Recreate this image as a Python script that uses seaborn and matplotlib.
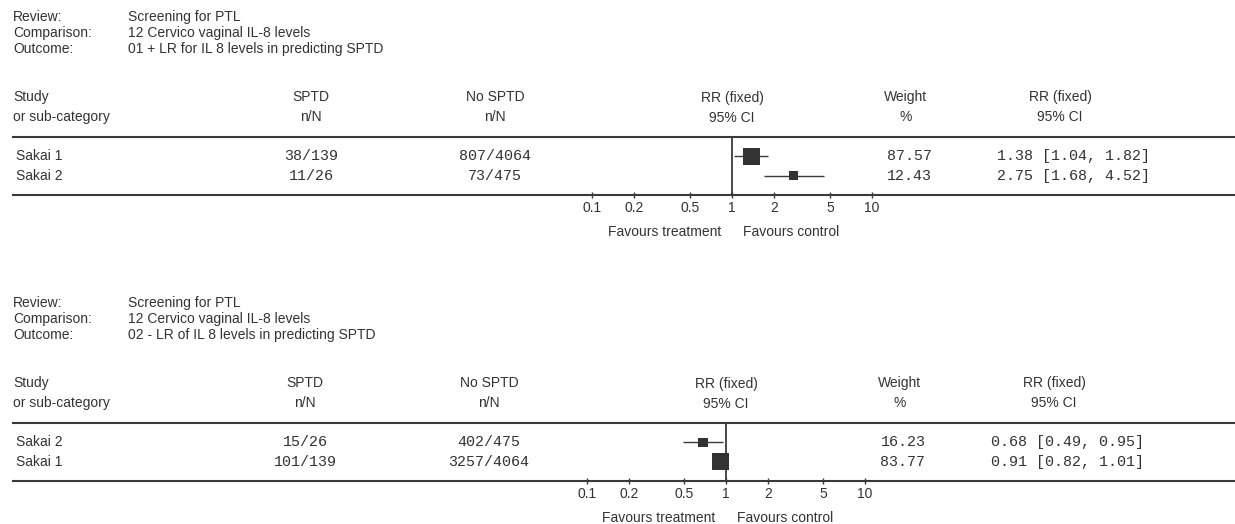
import matplotlib
matplotlib.use("Agg")
import matplotlib.pyplot as plt
import matplotlib.transforms as mtransforms
import seaborn as sns
import numpy as np
import pandas as pd

# --- data -------------------------------------------------------------
review = "Screening for PTL"
comparison = "12 Cervico vaginal IL-8 levels"
outcomes = ["01 + LR for IL 8 levels in predicting SPTD",
            "02 - LR of IL 8 levels in predicting SPTD"]

studies_1 = ["Sakai 1", "Sakai 2"]
sptd_1 = ["38/139", "11/26"]
no_sptd_1 = ["807/4064", "73/475"]
weight_1 = [87.57, 12.43]
rr_1 = [1.38, 2.75]
lo_1 = [1.04, 1.68]
hi_1 = [1.82, 4.52]

studies_2 = ["Sakai 2", "Sakai 1"]
sptd_2 = ["15/26", "101/139"]
no_sptd_2 = ["402/475", "3257/4064"]
weight_2 = [16.23, 83.77]
rr_2 = [0.68, 0.91]
lo_2 = [0.49, 0.82]
hi_2 = [0.95, 1.01]

tick_values = [0.1, 0.2, 0.5, 1, 2, 5, 10]
tick_labels = ["0.1", "0.2", "0.5", "1", "2", "5", "10"]

# --- style ------------------------------------------------------------
sns.set_style("white")
plt.rcParams['font.family'] = ['Liberation Sans', 'DejaVu Sans']
TXT = '#333333'
LINE = '#3a3a3a'
SANS = 10
MONO = dict(family='Liberation Mono', size=10.8, color=TXT)

W, H = 1235, 524
fig = plt.figure(figsize=(W / 100, H / 100), dpi=100)
fig.patch.set_facecolor('white')


def fx(px):
    return px / W


def fy(py):
    return 1 - py / H


def draw_panel(dy, dx, x0, decade, outcome, studies, sptd, no_sptd, weight, rr, lo, hi):
    # header block
    for i, (lab, val) in enumerate([("Review:", review),
                                    ("Comparison:", comparison),
                                    ("Outcome:", outcome)]):
        y = 17 + 16 * i + dy
        fig.text(fx(13), fy(y), lab, ha='left', va='center', fontsize=SANS, color=TXT)
        fig.text(fx(128), fy(y), val, ha='left', va='center', fontsize=SANS, color=TXT)

    # column headers
    heads = [(13, 'left', "Study", "or sub-category"),
             (311 + dx, 'center', "SPTD", "n/N"),
             (495 + dx, 'center', "No SPTD", "n/N"),
             (906 + dx, 'center', "Weight", "%"),
             (1060 + dx, 'center', "RR (fixed)", "95% CI")]
    for x, ha, t1, t2 in heads:
        fig.text(fx(x), fy(97 + dy), t1, ha=ha, va='center', fontsize=SANS, color=TXT)
        fig.text(fx(x), fy(117 + dy), t2, ha=ha, va='center', fontsize=SANS, color=TXT)

    # forest axes: spans the full table width, log scale tuned so ticks land right
    left_px, right_px = 13, W
    top_px, bot_px = 137 + dy, 195 + dy
    ax = fig.add_axes([fx(left_px), fy(bot_px), fx(right_px - left_px),
                       (bot_px - top_px) / H])
    ax.set_xscale('log')
    ax.set_xlim(0.1 * 10 ** ((left_px - x0) / decade),
                0.1 * 10 ** ((right_px - x0) / decade))
    ax.set_ylim(3, 0)
    ax.set_facecolor('none')

    df = pd.DataFrame({"study": studies, "rr": rr, "lo": lo, "hi": hi,
                       "weight": weight, "row": [1, 2]})

    ax.axvline(1, color=LINE, lw=1.3, zorder=1)
    ax.hlines(df["row"], df["lo"], df["hi"], color=LINE, lw=1.0, zorder=2)
    side_pt = (4 + 1.4 * np.sqrt(df["weight"])) * 0.72
    sns.scatterplot(data=df, x="rr", y="row", marker='s', s=side_pt ** 2,
                    color='#333333', edgecolor='#333333', linewidth=0,
                    ax=ax, zorder=3, legend=False)

    ax.set_xticks(tick_values)
    ax.set_xticklabels(tick_labels)
    ax.xaxis.set_minor_locator(matplotlib.ticker.NullLocator())
    ax.tick_params(axis='x', direction='inout', length=5, width=1, colors=LINE,
                   labelcolor=TXT, labelsize=SANS, pad=1.5, bottom=True)
    ax.set_yticks([])
    ax.set_xlabel("")
    ax.set_ylabel("")
    for side in ['left', 'right']:
        ax.spines[side].set_visible(False)
    for side in ['top', 'bottom']:
        ax.spines[side].set_color(LINE)
        ax.spines[side].set_linewidth(1.5)

    # table rows, y from the axes data
    trans = mtransforms.blended_transform_factory(fig.transFigure, ax.transData)
    for _, r in df.iterrows():
        i = int(r["row"]) - 1
        ax.text(fx(16), r["row"], r["study"], transform=trans, ha='left',
                va='center', fontsize=SANS, color=TXT)
        ax.text(fx(311 + dx), r["row"], sptd[i], transform=trans, ha='center',
                va='center', **MONO)
        ax.text(fx(495 + dx), r["row"], no_sptd[i], transform=trans, ha='center',
                va='center', **MONO)
        ax.text(fx(909 + dx), r["row"], f"{r['weight']:.2f}", transform=trans,
                ha='center', va='center', **MONO)
        ax.text(fx(997 + dx), r["row"],
                f"{r['rr']:.2f} [{r['lo']:.2f}, {r['hi']:.2f}]",
                transform=trans, ha='left', va='center', **MONO)

    # forest header and favours labels, anchored at RR = 1
    ax.annotate("RR (fixed)", xy=(1, 1), xycoords=('data', 'axes fraction'),
                xytext=(0, 28), textcoords='offset points', ha='center',
                va='center', fontsize=SANS, color=TXT, annotation_clip=False)
    ax.annotate("95% CI", xy=(1, 1), xycoords=('data', 'axes fraction'),
                xytext=(0, 14), textcoords='offset points', ha='center',
                va='center', fontsize=SANS, color=TXT, annotation_clip=False)
    ax.annotate("Favours treatment", xy=(1, 0), xycoords=('data', 'axes fraction'),
                xytext=(-8, -27), textcoords='offset points', ha='right',
                va='center', fontsize=SANS, color=TXT, annotation_clip=False)
    ax.annotate("Favours control", xy=(1, 0), xycoords=('data', 'axes fraction'),
                xytext=(8, -27), textcoords='offset points', ha='left',
                va='center', fontsize=SANS, color=TXT, annotation_clip=False)
    return ax


draw_panel(0, 0, 592, 140, outcomes[0], studies_1, sptd_1, no_sptd_1,
           weight_1, rr_1, lo_1, hi_1)
draw_panel(286, -6, 587, 139, outcomes[1], studies_2, sptd_2, no_sptd_2,
           weight_2, rr_2, lo_2, hi_2)

fig.savefig("out.png", dpi=100, facecolor='white')
